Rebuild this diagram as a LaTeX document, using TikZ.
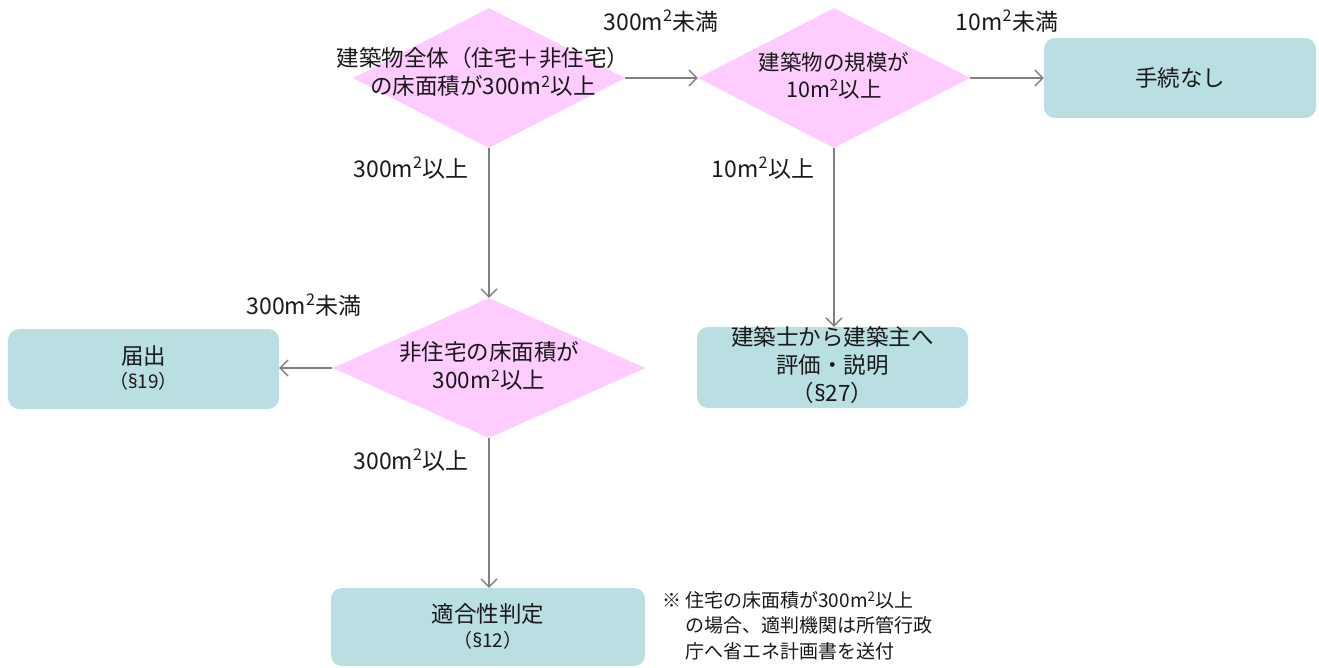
\documentclass[tikz,border=0pt]{standalone}
\usepackage{fontspec}
\setmainfont{Noto Sans CJK JP}
\newfontfamily\latinfont{Noto Sans}
\usetikzlibrary{shapes.geometric,arrows.meta}
\definecolor{diafill}{HTML}{FFCCFF}
\definecolor{boxfill}{HTML}{BADFE2}
\definecolor{arrowgray}{HTML}{808080}
\newcommand{\msq}{m\textsuperscript{2}}
\newcommand{\secsym}{{\latinfont §}}
\tikzset{
  x=1pt, y=-1pt,
  dia/.style={diamond, fill=diafill, inner sep=0pt, minimum width=#1, minimum height=140pt},
  dia/.default=272pt,
  box/.style={rectangle, rounded corners=11pt, fill=boxfill, minimum width=#1, minimum height=80pt, inner sep=0pt},
  box/.default=272pt,
  txt/.style={align=center, font=\fontsize{22.5}{28}\selectfont, inner sep=0pt, text=black!90},
  sect/.style={align=center, font=\fontsize{19}{24}\selectfont, inner sep=0pt, text=black!90},
  lbl/.style={font=\fontsize{23}{26}\selectfont, inner sep=0pt, text=black!90},
  flow/.style={draw=arrowgray, line width=1.4pt, -{Straight Barb[length=8pt,width=16pt,line width=1.4pt]}},
}
\begin{document}
\begin{tikzpicture}
\useasboundingbox (0,0) rectangle (1319,667);
% diamonds
\node[dia] (d1) at (489,78) {};
\node[txt] at (483,72) {建築物全体（住宅＋非住宅）\\の床面積が300\msq 以上};
\node[dia] (d2) at (834,78) {};
\node[txt, font=\fontsize{21.5}{27}\selectfont] at (834,76) {建築物の規模が\\10\msq 以上};
\node[dia=313pt] (d3) at (489,368) {};
\node[txt] at (489,366) {非住宅の床面積が\\300\msq 以上};
% boxes
\node[box] (b1) at (1180,78) {};
\node[txt] at (1180,78) {手続なし};
\node[box=271pt] (b2) at (143.5,369) {};
\node[txt] at (143.5,356) {届出};
\node[sect] at (143.5,381) {（\secsym19）};
\node[box=271pt, minimum height=81pt] (b3) at (832.5,367.5) {};
\node[txt] at (832.5,365) {建築士から建築主へ\\評価・説明\\（\secsym27）};
\node[box=314pt, minimum height=78pt] (b4) at (488,627) {};
\node[txt] at (488,614) {適合性判定};
\node[sect] at (488,640) {（\secsym12）};
% connectors
\draw[flow] (d1.east) -- (d2.west);
\draw[flow] (d2.east) -- (b1.west);
\draw[flow] (d1.south) -- (d3.north);
\draw[flow] (d2.south) -- (d2.south |- b3.north);
\draw[flow] (d3.west) -- (b2.east |- d3.west);
\draw[flow] (d3.south) -- (d3.south |- b4.north);
% edge labels
\node[lbl] (l1) at (661,21) {300\msq 未満};
\node[lbl] (l2) at (1007,21) {10\msq 未満};
\node[lbl] (l3) at (411,168) {300\msq 以上};
\node[lbl] (l4) at (763,168) {10\msq 以上};
\node[lbl] (l5) at (304,305) {300\msq 未満};
\node[lbl] (l6) at (411,460) {300\msq 以上};
% note
\node[anchor=north west, align=left, inner sep=0pt, font=\fontsize{19}{25.5}\selectfont, text=black!90] (note) at (662,591)
  {※ 住宅の床面積が300\msq 以上\\\hphantom{※ }の場合、適判機関は所管行政\\\hphantom{※ }庁へ省エネ計画書を送付};
\end{tikzpicture}
\end{document}
